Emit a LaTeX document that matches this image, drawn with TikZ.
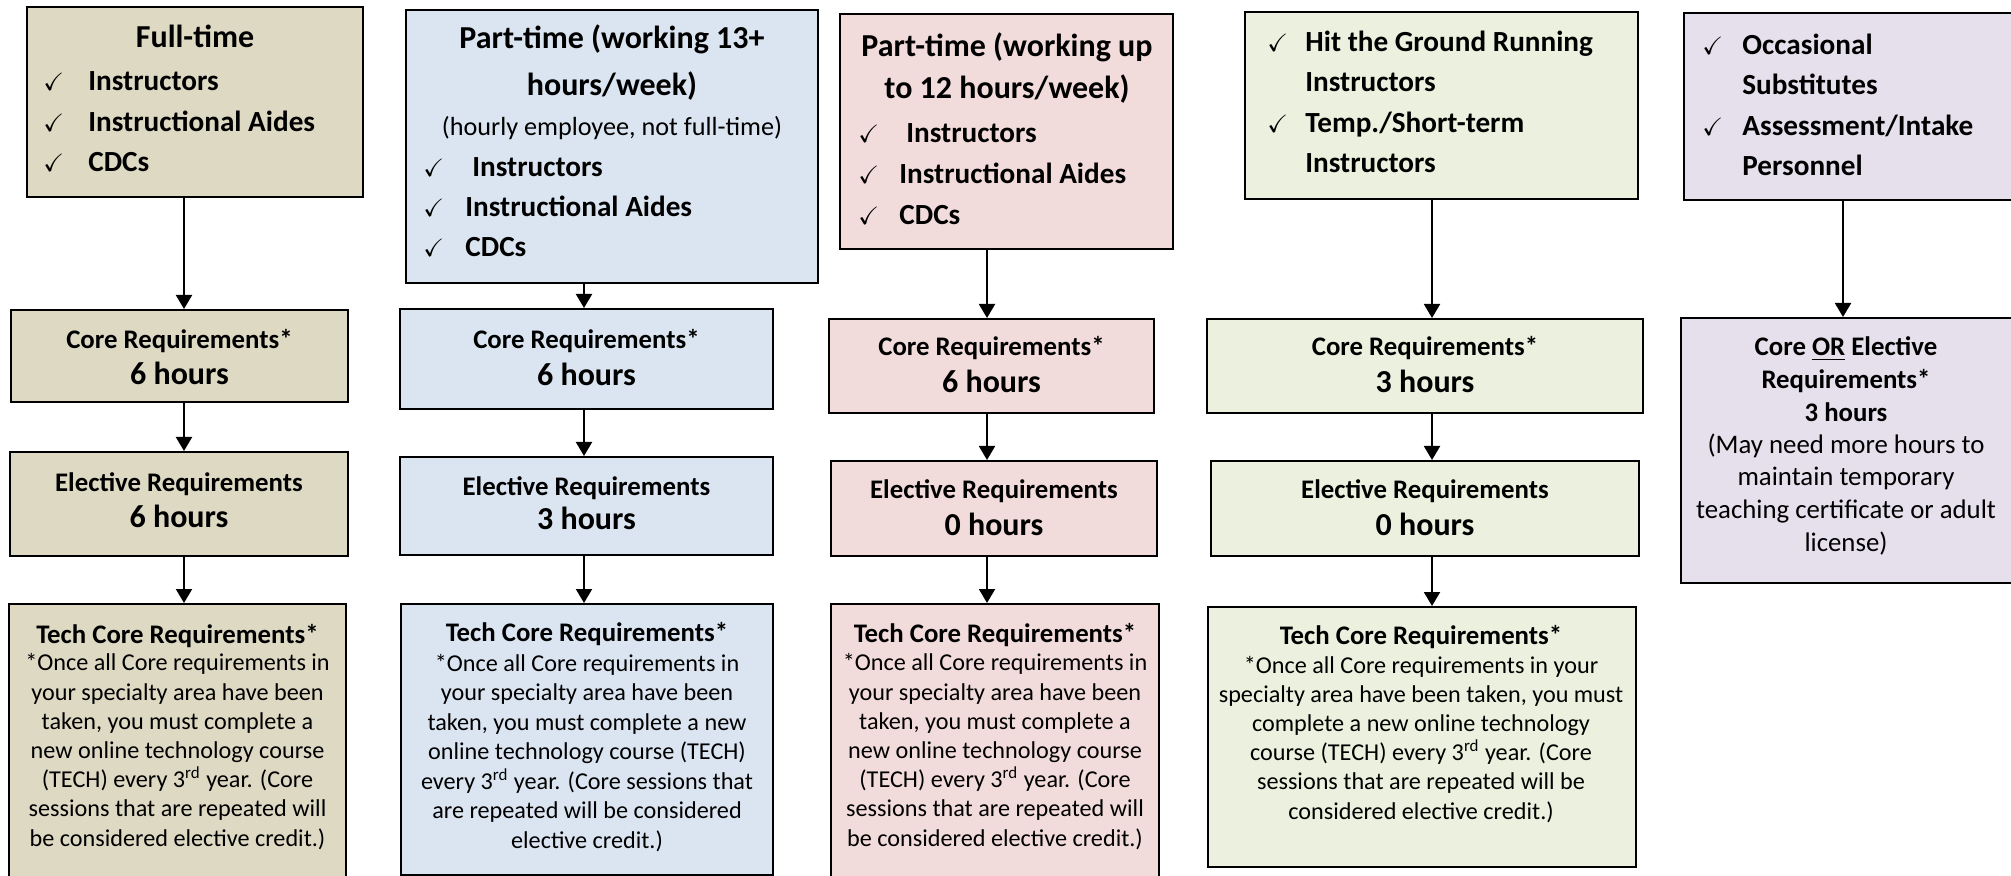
\documentclass[tikz,border=0pt]{standalone}
\usepackage{amssymb}
\usepackage{fontspec}
\setmainfont{Carlito}
\usetikzlibrary{arrows.meta,fit}
\definecolor{ctan}{HTML}{DDD9C3}
\definecolor{cblue}{HTML}{DBE5F1}
\definecolor{cpink}{HTML}{F2DCDB}
\definecolor{cgreen}{HTML}{EBF1DE}
\definecolor{cpurple}{HTML}{E5E0EC}
\newcommand\fTitle[1]{\fontsize{16}{#1}\selectfont\bfseries}
\newcommand\fList[1]{\fontsize{14.6}{#1}\selectfont\bfseries}
\newcommand\fHead{\fontsize{13.4}{16}\selectfont\bfseries}
\newcommand\fHours{\fontsize{16}{19}\selectfont\bfseries}
\newcommand\fBody[1]{\fontsize{12.1}{#1}\selectfont}
\newcommand\fMid{\fontsize{13.1}{14.35}\selectfont}
\newcommand\fLow{\fontsize{13.4}{16.25}\selectfont}
\newcommand\chk[1]{\makebox[#1pt][l]{\fontsize{12.5}{12.5}\selectfont$\checkmark$}}
\begin{document}
\begin{tikzpicture}[x=0.5pt,y=-0.5pt,
  box/.style={draw=black,line width=1pt,inner sep=0pt},
  arr/.style={draw=black,line width=1pt,-{Triangle[width=8pt,length=7pt]}},
  txt/.style={inner sep=0pt,align=center,anchor=base},
  lst/.style={inner sep=0pt,align=left,anchor=base west}]
\useasboundingbox (0,0) rectangle (2011,876);

% ---------- boxes ----------
\node[box,fill=ctan,fit={(27,7)(363,197)}] (c1a) {};
\node[box,fill=ctan,fit={(11,310)(348,402)}] (c1b) {};
\node[box,fill=ctan,fit={(10,452)(348,556)}] (c1c) {};
\node[box,fill=ctan,fit={(9,604)(346,900)}] (c1d) {};

\node[box,fill=cblue,fit={(406,10)(818,283)}] (c2a) {};
\node[box,fill=cblue,fit={(400,309)(773,409)}] (c2b) {};
\node[box,fill=cblue,fit={(400,457)(773,555)}] (c2c) {};
\node[box,fill=cblue,fit={(401,604)(773,875)}] (c2d) {};

\node[box,fill=cpink,fit={(840,14)(1173,249)}] (c3a) {};
\node[box,fill=cpink,fit={(829,319)(1154,413)}] (c3b) {};
\node[box,fill=cpink,fit={(831,461)(1157,556)}] (c3c) {};
\node[box,fill=cpink,fit={(831,604)(1159,900)}] (c3d) {};

\node[box,fill=cgreen,fit={(1245,12)(1638,199)}] (c4a) {};
\node[box,fill=cgreen,fit={(1207,319)(1643,413)}] (c4b) {};
\node[box,fill=cgreen,fit={(1211,461)(1639,556)}] (c4c) {};
\node[box,fill=cgreen,fit={(1208,607)(1636,867)}] (c4d) {};

\node[box,fill=cpurple,fit={(1684,13)(2040,200)}] (c5a) {};
\node[box,fill=cpurple,fit={(1681,318)(2040,583)}] (c5b) {};

% ---------- arrows ----------
\coordinate (x1) at (184,0);
\coordinate (x2) at (584,0);
\coordinate (x3) at (987,0);
\coordinate (x4) at (1432,0);
\coordinate (x5) at (1843,0);
\draw[arr] (c1a.south -| x1) -- (c1b.north -| x1);
\draw[arr] (c1b.south -| x1) -- (c1c.north -| x1);
\draw[arr] (c1c.south -| x1) -- (c1d.north -| x1);
\draw[arr] (c2a.south -| x2) -- (c2b.north -| x2);
\draw[arr] (c2b.south -| x2) -- (c2c.north -| x2);
\draw[arr] (c2c.south -| x2) -- (c2d.north -| x2);
\draw[arr] (c3a.south -| x3) -- (c3b.north -| x3);
\draw[arr] (c3b.south -| x3) -- (c3c.north -| x3);
\draw[arr] (c3c.south -| x3) -- (c3d.north -| x3);
\draw[arr] (c4a.south -| x4) -- (c4b.north -| x4);
\draw[arr] (c4b.south -| x4) -- (c4c.north -| x4);
\draw[arr] (c4c.south -| x4) -- (c4d.north -| x4);
\draw[arr] (c5a.south -| x5) -- (c5b.north -| x5);

% ---------- column 1 ----------
\node[txt,font=\fTitle{19}] (t1a) at (195,48) {Full-time};
\node[lst,font=\fList{20.25}] (l1a) at (43,172) {\chk{22.5}Instructors\\\chk{22.5}Instructional Aides\\\chk{22.5}CDCs};
\node[txt,font=\fHead] (h1b) at (179.5,349) {Core Requirements*};
\node[txt,font=\fHours] (n1b) at (179.5,385) {6 hours};
\node[txt,font=\fHead] (h1c) at (179,491) {Elective Requirements};
\node[txt,font=\fHours] (n1c) at (179,527) {6 hours};
\node[txt,font=\fHead] (h1d) at (177.5,643) {Tech Core Requirements*};
\node[txt,font=\fBody{14.6}] (b1d) at (177.5,846) {*Once all Core requirements in\\your specialty area have been\\taken, you must complete a\\new online technology course\\(TECH) every 3\textsuperscript{rd} year. (Core\\sessions that are repeated will\\be considered elective credit.)};

% ---------- column 2 ----------
\node[txt,font=\fTitle{23.5}] (t2a) at (612,96) {Part-time (working 13+\\hours/week)};
\node[txt,font=\fMid] (s2a) at (612,136) {(hourly employee, not full-time)};
\node[lst,font=\fList{20}] (l2a) at (423,257) {\chk{21}\hspace{3.5pt}Instructors\\\chk{21}Instructional Aides\\\chk{21}CDCs};
\node[txt,font=\fHead] (h2b) at (586.5,348.5) {Core Requirements*};
\node[txt,font=\fHours] (n2b) at (586.5,385.5) {6 hours};
\node[txt,font=\fHead] (h2c) at (586.5,495) {Elective Requirements};
\node[txt,font=\fHours] (n2c) at (586.5,530) {3 hours};
\node[txt,font=\fHead] (h2d) at (587,641) {Tech Core Requirements*};
\node[txt,font=\fBody{14.75}] (b2d) at (587,848) {*Once all Core requirements in\\your specialty area have been\\taken, you must complete a new\\online technology course (TECH)\\every 3\textsuperscript{rd} year. (Core sessions that\\are repeated will be considered\\elective credit.)};

% ---------- column 3 ----------
\node[txt,font=\fTitle{21}] (t3a) at (1007,99) {Part-time (working up\\to 12 hours/week)};
\node[lst,font=\fList{20.5}] (l3a) at (858,225) {\chk{20.5}\hspace{3.5pt}Instructors\\\chk{20.5}Instructional Aides\\\chk{20.5}CDCs};
\node[txt,font=\fHead] (h3b) at (991.5,356) {Core Requirements*};
\node[txt,font=\fHours] (n3b) at (991.5,393) {6 hours};
\node[txt,font=\fHead] (h3c) at (994,499) {Elective Requirements};
\node[txt,font=\fHours] (n3c) at (994,535) {0 hours};
\node[txt,font=\fHead] (h3d) at (995,642) {Tech Core Requirements*};
\node[txt,font=\fBody{14.6}] (b3d) at (995,846) {*Once all Core requirements in\\your specialty area have been\\taken, you must complete a\\new online technology course\\(TECH) every 3\textsuperscript{rd} year. (Core\\sessions that are repeated will\\be considered elective credit.)};

% ---------- column 4 ----------
\node[lst,font=\fList{20.25}] (l4a) at (1267,173) {\chk{19}Hit the Ground Running\\\hspace*{19pt}Instructors\\\chk{19}Temp./Short-term\\\hspace*{19pt}Instructors};
\node[txt,font=\fHead] (h4b) at (1425,356) {Core Requirements*};
\node[txt,font=\fHours] (n4b) at (1425,393) {3 hours};
\node[txt,font=\fHead] (h4c) at (1425,499) {Elective Requirements};
\node[txt,font=\fHours] (n4c) at (1425,535) {0 hours};
\node[txt,font=\fHead] (h4d) at (1421,644) {Tech Core Requirements*};
\node[txt,font=\fBody{14.6}] (b4d) at (1421,819) {*Once all Core requirements in your\\specialty area have been taken, you must\\complete a new online technology\\course (TECH) every 3\textsuperscript{rd} year. (Core\\sessions that are repeated will be\\considered elective credit.)};

% ---------- column 5 ----------
\node[lst,font=\fList{20.25}] (l5a) at (1702,176) {\chk{20}Occasional\\\hspace*{20pt}Substitutes\\\chk{20}Assessment/Intake\\\hspace*{20pt}Personnel};
\node[txt,font=\fLow] (b5b) at (1846,551) {\textbf{Core \underline{OR} Elective}\\\textbf{Requirements*}\\\textbf{3 hours}\\(May need more hours to\\maintain temporary\\teaching certificate or adult\\license)};
\end{tikzpicture}
\end{document}
